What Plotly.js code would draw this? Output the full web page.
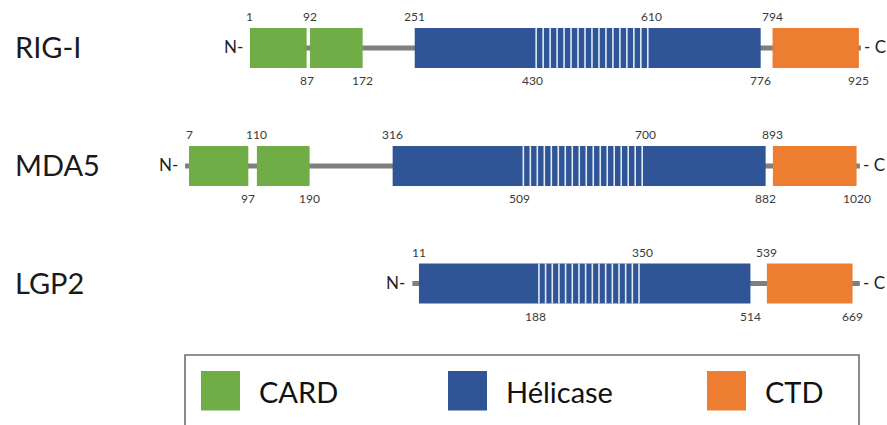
<!DOCTYPE html>
<html>
<head>
<meta charset="utf-8">
<script src="https://cdn.plot.ly/plotly-3.0.1.min.js"></script>
<style>
  html, body { margin: 0; padding: 0; background: #ffffff; }
  #chart { width: 887px; height: 425px; }
</style>
</head>
<body>
<div id="chart"></div>
<script>
// ---------------- DATA ----------------
const proteins = ['RIG-I', 'MDA5', 'LGP2'];
const cardStart = [[1, 92], [7, 110], []];
const cardEnd = [[87, 172], [97, 190], []];
const helicaseStart = [251, 316, 11];
const helicaseEnd = [776, 882, 514];
const repeatStart = [430, 509, 188];
const repeatEnd = [610, 700, 350];
const ctdStart = [794, 893, 539];
const ctdEnd = [925, 1020, 669];
const chainStart = [1, 1, 1];
const chainEnd = [928, 1025, 680];
const repeatStripes = [17, 18, 16];
const legendLabels = ['CARD', 'Hélicase', 'CTD'];

// ---------------- STYLE / LAYOUT CONSTANTS ----------------
const W = 887, H = 425;
const pxPerAA = 0.659;
const originPx = [249.3, 184.4, 411.7];   // pixel of residue 0 in each row
const rowCenterPx = [48, 166, 283.5];
const rowHalfPx = 40;
const colors = { CARD: '#70ad47', 'Hélicase': '#2f5597', CTD: '#ed7d31' };
const lineColor = '#7f7f7f';
const FONT = 'Lato, "Open Sans", sans-serif';

const traces = [];
const annotations = [];
const shapes = [];
const layout = {
  width: W, height: H,
  margin: { l: 0, r: 0, t: 0, b: 0, pad: 0 },
  paper_bgcolor: '#ffffff', plot_bgcolor: 'rgba(0,0,0,0)',
  showlegend: false, barmode: 'overlay', hovermode: false,
  annotations: annotations, shapes: shapes
};

proteins.forEach((name, i) => {
  const sfx = i === 0 ? '' : String(i + 1);
  const xa = 'x' + sfx, ya = 'y' + sfx;
  const x0 = -originPx[i] / pxPerAA;
  layout['xaxis' + sfx] = {
    range: [x0, x0 + W / pxPerAA], domain: [0, 1], visible: false,
    anchor: ya, fixedrange: true
  };
  const top = rowCenterPx[i] - rowHalfPx, bot = rowCenterPx[i] + rowHalfPx;
  layout['yaxis' + sfx] = {
    range: [-1, 1], domain: [1 - bot / H, 1 - top / H], visible: false,
    anchor: xa, fixedrange: true
  };

  // backbone (drawn below the domain boxes)
  shapes.push({
    type: 'line', layer: 'below', xref: xa, yref: ya,
    x0: chainStart[i], x1: chainEnd[i], y0: 0, y1: 0,
    line: { color: lineColor, width: 5 }
  });

  const addBars = (starts, ends, color) => {
    if (!starts.length) return;
    traces.push({
      type: 'bar', orientation: 'h', xaxis: xa, yaxis: ya,
      y: starts.map(() => 0), base: starts,
      x: starts.map((s, k) => ends[k] - s), width: 1.0,
      marker: { color: color, line: { width: 0 } }
    });
  };
  addBars(cardStart[i], cardEnd[i], colors.CARD);
  addBars([helicaseStart[i]], [helicaseEnd[i]], colors['Hélicase']);
  addBars([ctdStart[i]], [ctdEnd[i]], colors.CTD);

  // repeat stripes inside helicase
  const sx = [], sy = [];
  const n = repeatStripes[i];
  const step = (repeatEnd[i] - repeatStart[i]) / n;
  for (let k = 0; k < n; k++) {
    const p = repeatStart[i] + (k + 0.5) * step;
    sx.push(p, p, null); sy.push(-0.5, 0.5, null);
  }
  traces.push({
    type: 'scatter', mode: 'lines', xaxis: xa, yaxis: ya,
    x: sx, y: sy, line: { color: 'rgba(235,241,250,0.95)', width: 1.6 }
  });

  // position labels
  const topVals = [], botVals = [];
  cardStart[i].forEach(v => topVals.push(v));
  cardEnd[i].forEach(v => botVals.push(v));
  topVals.push(helicaseStart[i], repeatEnd[i], ctdStart[i]);
  botVals.push(repeatStart[i], helicaseEnd[i], ctdEnd[i]);
  const numFont = { family: FONT, size: 12, color: '#3a3a3a' };
  topVals.forEach(v => annotations.push({
    xref: xa, yref: ya, x: v, y: 0.5, text: String(v), showarrow: false,
    xanchor: 'center', yanchor: 'bottom', yshift: 2, font: numFont
  }));
  botVals.forEach(v => annotations.push({
    xref: xa, yref: ya, x: v, y: -0.5, text: String(v), showarrow: false,
    xanchor: 'center', yanchor: 'top', yshift: -3, font: numFont
  }));

  // N- and - C
  const termFont = { family: FONT, size: 17, color: '#222222' };
  annotations.push({
    xref: xa, yref: ya, x: chainStart[i], y: 0, text: 'N-', showarrow: false,
    xanchor: 'right', yanchor: 'middle', xshift: -6, yshift: 1, font: termFont,
    borderpad: 0
  });
  annotations.push({
    xref: xa, yref: ya, x: chainEnd[i], y: 0, text: '- C', showarrow: false,
    xanchor: 'left', yanchor: 'middle', xshift: 2, yshift: 1, font: termFont,
    borderpad: 0
  });

  // protein name
  annotations.push({
    xref: 'paper', yref: ya, x: 13 / W, y: 0, text: name, showarrow: false,
    xanchor: 'left', yanchor: 'middle', yshift: 1,
    font: { family: FONT, size: 29, color: '#1a1a1a' }
  });
});

// ---------------- LEGEND (drawn) ----------------
const px = v => v / W, py = v => 1 - v / H;
shapes.push({
  type: 'rect', xref: 'paper', yref: 'paper',
  x0: px(185), x1: px(859), y0: py(440), y1: py(355),
  line: { color: '#6f6f6f', width: 1.6 }, fillcolor: 'rgba(0,0,0,0)'
});
const swatchLeft = [201, 448, 707];
legendLabels.forEach((lab, k) => {
  shapes.push({
    type: 'rect', xref: 'paper', yref: 'paper',
    x0: px(swatchLeft[k]), x1: px(swatchLeft[k] + 39), y0: py(410.5), y1: py(371),
    line: { width: 0 }, fillcolor: colors[lab]
  });
  annotations.push({
    xref: 'paper', yref: 'paper', x: px(swatchLeft[k] + 56), y: py(392),
    text: lab, showarrow: false, xanchor: 'left', yanchor: 'middle', yshift: 1,
    font: { family: FONT, size: 29, color: '#111111' }
  });
});

Plotly.newPlot('chart', traces, layout, { displayModeBar: false, staticPlot: true });
</script>
</body>
</html>
